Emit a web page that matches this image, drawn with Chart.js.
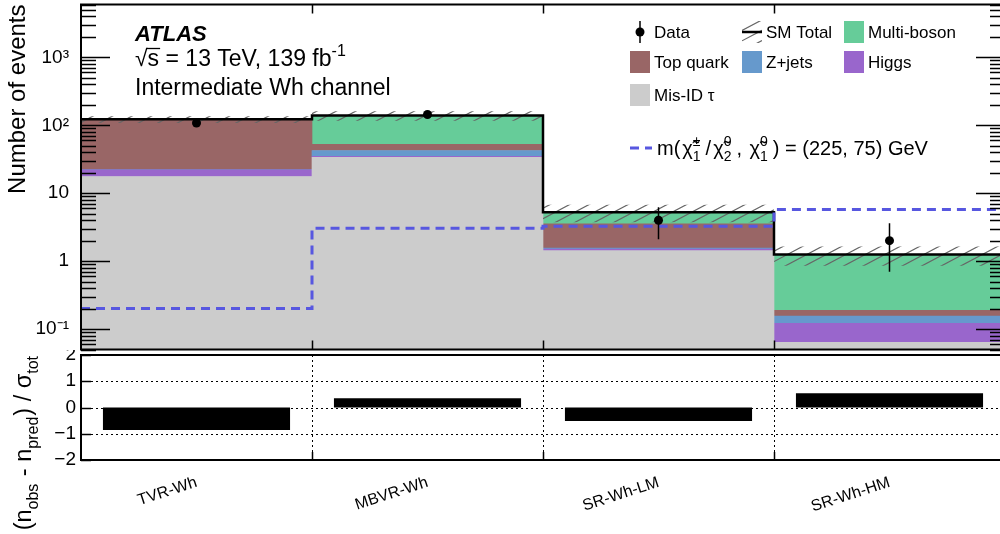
<!DOCTYPE html>
<html>
<head>
<meta charset="utf-8">
<script src="https://cdn.jsdelivr.net/npm/chart.js@4.4.0/dist/chart.umd.min.js"></script>
<style>
  html, body { margin: 0; padding: 0; background: #fff; overflow: hidden; width: 1000px; height: 534px; }
  canvas { position: absolute; left: 0; }
  #top { top: 0; }
  #bottom { top: 350px; }
</style>
</head>
<body>
<canvas id="top" width="1010" height="354"></canvas>
<canvas id="bottom" width="1010" height="184"></canvas>
<script>
const FONT = "'Liberation Sans', Arial, Helvetica, sans-serif";
Chart.defaults.font.family = FONT;
Chart.defaults.color = '#000';

// regions (bins)
const regions = ['TVR-Wh', 'MBVR-Wh', 'SR-Wh-LM', 'SR-Wh-HM'];

// background yields per region
const misIdTau = [17.6, 33.8, 1.43, 0.064];
const higgs = [4.4, 1.2, 0.07, 0.057];
const zJets = [0.2, 7.5, 0.05, 0.034];
const topQuark = [99.5, 10.0, 2.0, 0.033];
const multiBoson = [0.5, 86.5, 1.7, 1.06];
const smUnc = [14, 22, 1.5, 0.39];

// data and signal
const dataObs = [108, 144, 4, 2];
const dataErrUp = [10.4, 12, 2.2, 1.6];
const dataErrDown = [10.4, 12, 1.9, 1.3];
const signal = [0.2, 3.06, 3.27, 5.75];

// lower panel
const significance = [-0.86, 0.35, -0.51, 0.54];

// ticks
const yTicks = [0.1, 1, 10, 100, 1000];
const yTickLabels = ['10\u207B\u00B9', '1', '10', '10\u00B2', '10\u00B3'];
const pullTicks = [-2, -1, 0, 1, 2];
const pullTickLabels = ['\u22122', '\u22121', '0', '1', '2'];

const backgrounds = [
  { label: 'Mis-ID \u03C4', data: misIdTau, color: '#cccccc' },
  { label: 'Higgs', data: higgs, color: '#9966cc' },
  { label: 'Z+jets', data: zJets, color: '#6699cc' },
  { label: 'Top quark', data: topQuark, color: '#996666' },
  { label: 'Multi-boson', data: multiBoson, color: '#66cc99' }
];
const bgColor = Object.fromEntries(backgrounds.map(b => [b.label, b.color]));
const smTotal = regions.map((_, i) => backgrounds.reduce((s, b) => s + b.data[i], 0));
const SIG_COLOR = '#5757e0';

// histogram edges for stepped lines
const steps = arr => arr.map((v, i) => ({ x: i, y: v })).concat([{ x: arr.length, y: arr[arr.length - 1] }]);

// fixed axis box, no label overhang padding
const fixWidth = w => s => { s.width = w; s.paddingTop = 0; s.paddingBottom = 0; };
const fixHeight = h => s => { s.height = h; s.paddingLeft = 0; s.paddingRight = 0; };

function hatch(ctx, x0, y0, x1, y1) {
  ctx.save();
  ctx.beginPath();
  ctx.rect(x0, y0, x1 - x0, y1 - y0);
  ctx.clip();
  ctx.strokeStyle = '#666';
  ctx.lineWidth = 1.2;
  const sp = 19.5, k = 0.53, dc = sp * k;
  const cMin = y0 + k * x0, cMax = y1 + k * x1;
  ctx.beginPath();
  for (let c = Math.floor(cMin / dc) * dc; c <= cMax + dc; c += dc) {
    ctx.moveTo(x0, c - k * x0);
    ctx.lineTo(x1, c - k * x1);
  }
  ctx.stroke();
  ctx.restore();
}

// text with sub/superscripts; {gap} adds space
function drawParts(ctx, x, y, parts, size, scriptGap = 1) {
  const small = Math.round(size * 0.7);
  let cx = x;
  ctx.textAlign = 'left';
  ctx.textBaseline = 'alphabetic';
  for (const p of parts) {
    if (typeof p === 'string') {
      ctx.font = `${size}px ${FONT}`;
      ctx.fillText(p, cx, y);
      cx += ctx.measureText(p).width;
    } else if (p.gap) {
      cx += p.gap;
    } else {
      ctx.font = `${small}px ${FONT}`;
      let w = 0;
      if (p.sup) { ctx.fillText(p.sup, cx, y - size * 0.45); w = Math.max(w, ctx.measureText(p.sup).width); }
      if (p.sub) { ctx.fillText(p.sub, cx, y + size * 0.28); w = Math.max(w, ctx.measureText(p.sub).width); }
      cx += w + scriptGap;
    }
  }
  return cx - x;
}
function partsWidth(ctx, parts, size) {
  ctx.save();
  ctx.globalAlpha = 0;
  const w = drawParts(ctx, -1000, -1000, parts, size);
  ctx.restore();
  return w;
}

const topPanel = {
  id: 'topPanel',
  beforeDatasetDraw(chart, args) {
    const ds = chart.data.datasets[args.index];
    const { ctx, scales: { xs, y, x } } = chart;
    if (ds.label === 'SM Total') {
      smTotal.forEach((t, i) => {
        hatch(ctx, xs.getPixelForValue(i), y.getPixelForValue(t + smUnc[i]),
          xs.getPixelForValue(i + 1), y.getPixelForValue(t - smUnc[i]));
      });
    }
    if (ds.label === 'Data') {
      ctx.save();
      ctx.strokeStyle = '#000';
      ctx.lineWidth = 1.5;
      ctx.beginPath();
      dataObs.forEach((d, i) => {
        const px = x.getPixelForValue(i);
        ctx.moveTo(px, y.getPixelForValue(d + dataErrUp[i]));
        ctx.lineTo(px, y.getPixelForValue(d - dataErrDown[i]));
      });
      ctx.stroke();
      ctx.restore();
    }
  },
  afterDraw(chart) {
    const { ctx, chartArea: a, scales: { y, xs } } = chart;
    ctx.save();
    ctx.strokeStyle = '#000';
    // log ticks, inside the frame
    ctx.lineWidth = 1.5;
    ctx.beginPath();
    for (let e = -2; e <= 3; e++) {
      for (let m = 1; m <= 9; m++) {
        const v = m * Math.pow(10, e);
        if (v < y.min || v > y.max) continue;
        const py = Math.round(y.getPixelForValue(v)) + 0.5;
        const len = m === 1 ? 29 : 15;
        ctx.moveTo(a.left, py); ctx.lineTo(a.left + len, py);
        ctx.moveTo(a.right, py); ctx.lineTo(a.right - len, py);
      }
    }
    for (let i = 1; i < regions.length; i++) {
      const px = Math.round(xs.getPixelForValue(i)) + 0.5;
      ctx.moveTo(px, a.top); ctx.lineTo(px, a.top + 9);
      ctx.moveTo(px, a.bottom); ctx.lineTo(px, a.bottom - 9);
    }
    ctx.stroke();
    ctx.lineWidth = 2;
    ctx.strokeRect(a.left, a.top, a.right - a.left, a.bottom - a.top);

    // ATLAS label
    ctx.fillStyle = '#000';
    ctx.textAlign = 'left';
    ctx.textBaseline = 'alphabetic';
    ctx.font = `italic bold 22px ${FONT}`;
    ctx.fillText('ATLAS', 135, 41);
    ctx.font = `23px ${FONT}`;
    const wRoot = ctx.measureText('\u221A').width;
    const wS = ctx.measureText('s').width;
    drawParts(ctx, 135, 66, ['\u221As = 13 TeV, 139 fb', { sup: '-1' }], 23);
    ctx.lineWidth = 1.3;
    ctx.beginPath();
    ctx.moveTo(135 + wRoot - 1, 48.5); ctx.lineTo(135 + wRoot + wS + 1, 48.5);
    ctx.stroke();
    ctx.font = `23px ${FONT}`;
    ctx.fillText('Intermediate Wh channel', 135, 95);

    // legend
    const cols = [630, 742, 844], rows = [32, 62, 95];
    const entry = (c, r, label) => {
      ctx.font = `17px ${FONT}`;
      ctx.fillStyle = '#000';
      ctx.fillText(label, cols[c] + 24, rows[r] + 6);
    };
    const box = (c, r, label) => {
      ctx.fillStyle = bgColor[label];
      ctx.fillRect(cols[c], rows[r] - 11, 20, 22);
      entry(c, r, label);
    };
    // data
    ctx.lineWidth = 1.5;
    ctx.beginPath();
    ctx.moveTo(cols[0] + 10, rows[0] - 11); ctx.lineTo(cols[0] + 10, rows[0] + 11);
    ctx.stroke();
    ctx.beginPath();
    ctx.arc(cols[0] + 10, rows[0], 4.5, 0, Math.PI * 2);
    ctx.fill();
    entry(0, 0, 'Data');
    // SM total
    hatch(ctx, cols[1], rows[0] - 11, cols[1] + 20, rows[0] + 11);
    ctx.lineWidth = 2.5;
    ctx.beginPath();
    ctx.moveTo(cols[1], rows[0]); ctx.lineTo(cols[1] + 20, rows[0]);
    ctx.stroke();
    entry(1, 0, 'SM Total');
    box(2, 0, 'Multi-boson');
    box(0, 1, 'Top quark');
    box(1, 1, 'Z+jets');
    box(2, 1, 'Higgs');
    box(0, 2, 'Mis-ID \u03C4');
    // signal
    ctx.strokeStyle = SIG_COLOR;
    ctx.lineWidth = 3;
    ctx.setLineDash([9, 6]);
    ctx.beginPath();
    ctx.moveTo(cols[0], 148); ctx.lineTo(cols[0] + 22, 148);
    ctx.stroke();
    ctx.setLineDash([]);
    ctx.fillStyle = '#000';
    const chi = '\u03C7\u0303';
    drawParts(ctx, 657, 155, ['m(', { gap: 2 }, chi, { sup: '\u00B1', sub: '1' }, '/', { gap: 2 }, chi, { sup: '0', sub: '2' },
      ', ', { gap: 2 }, chi, { sup: '0', sub: '1' }, ') = (225, 75) GeV'], 20, 5);
    ctx.restore();
  }
};

new Chart(document.getElementById('top'), {
  type: 'bar',
  data: {
    labels: regions,
    datasets: [
      { type: 'line', label: 'Data', data: dataObs, stack: 'data', showLine: false, pointRadius: 4.5,
        pointBackgroundColor: '#000', pointBorderWidth: 0, borderColor: '#000', order: 0 },
      { type: 'line', label: 'Signal', data: steps(signal), xAxisID: 'xs', stack: 'sig', stepped: 'before',
        borderColor: SIG_COLOR, borderWidth: 3, borderDash: [9, 6], pointRadius: 0, fill: false, order: 1 },
      { type: 'line', label: 'SM Total', data: steps(smTotal), xAxisID: 'xs', stack: 'tot', stepped: 'before',
        borderColor: '#000', borderWidth: 2.5, pointRadius: 0, fill: false, order: 2 },
      ...backgrounds.map(b => ({
        label: b.label, data: b.data, backgroundColor: b.color, stack: 'bkg', grouped: false,
        categoryPercentage: 1, barPercentage: 1, borderWidth: 0, order: 10
      }))
    ]
  },
  options: {
    responsive: false,
    animation: false,
    events: [],
    layout: { padding: { left: 0, right: 5, top: 1, bottom: 3 } },
    plugins: { legend: { display: false }, tooltip: { enabled: false } },
    scales: {
      x: { type: 'category', offset: true, display: false },
      xs: { type: 'linear', min: 0, max: 4, offset: false, display: false },
      y: {
        type: 'logarithmic', min: 0.05, max: 6000, stacked: true,
        afterFit: fixWidth(81),
        afterBuildTicks: s => { s.ticks = yTicks.map(v => ({ value: v })); },
        ticks: { autoSkip: false, callback: (v, i) => yTickLabels[i], font: { size: 19 }, padding: 12, color: '#000' },
        grid: { display: false, drawTicks: false },
        border: { display: false },
        title: { display: true, text: 'Number of events', align: 'end', color: '#000',
          font: { size: 24 }, padding: { top: 4, bottom: 0 } }
      }
    }
  },
  plugins: [topPanel]
});

const bottomPanel = {
  id: 'bottomPanel',
  beforeDatasetsDraw(chart) {
    const { ctx, chartArea: a, scales: { x, y } } = chart;
    ctx.save();
    ctx.strokeStyle = '#000';
    ctx.lineWidth = 1;
    ctx.setLineDash([2, 3]);
    ctx.beginPath();
    pullTicks.slice(1, -1).forEach(v => {
      const py = Math.round(y.getPixelForValue(v)) + 0.5;
      ctx.moveTo(a.left, py); ctx.lineTo(a.right, py);
    });
    for (let i = 1; i < regions.length; i++) {
      const px = Math.round((x.getPixelForValue(i - 1) + x.getPixelForValue(i)) / 2) + 0.5;
      ctx.moveTo(px, a.top); ctx.lineTo(px, a.bottom);
    }
    ctx.stroke();
    ctx.restore();
  },
  afterDraw(chart) {
    const { ctx, chartArea: a, scales: { x, y } } = chart;
    ctx.save();
    ctx.strokeStyle = '#000';
    ctx.lineWidth = 1.5;
    ctx.beginPath();
    pullTicks.forEach(v => {
      const py = Math.round(y.getPixelForValue(v)) + 0.5;
      ctx.moveTo(a.left, py); ctx.lineTo(a.left + 10, py);
    });
    for (let i = 1; i < regions.length; i++) {
      const px = Math.round((x.getPixelForValue(i - 1) + x.getPixelForValue(i)) / 2) + 0.5;
      ctx.moveTo(px, a.bottom); ctx.lineTo(px, a.bottom - 8);
    }
    ctx.stroke();
    ctx.lineWidth = 2;
    ctx.strokeRect(a.left, a.top, a.right - a.left, a.bottom - a.top);
    // y title
    const parts = ['(n', { sub: 'obs' }, ' - n', { sub: 'pred' }, ') / \u03C3', { sub: 'tot' }];
    const w = partsWidth(ctx, parts, 23.5);
    ctx.translate(31, a.top);
    ctx.rotate(-Math.PI / 2);
    ctx.fillStyle = '#000';
    drawParts(ctx, -w, 0, parts, 23.5);
    ctx.restore();
  }
};

new Chart(document.getElementById('bottom'), {
  type: 'bar',
  data: {
    labels: regions,
    datasets: [{ label: 'Significance', data: significance, backgroundColor: '#000',
      barPercentage: 0.81, categoryPercentage: 1, borderWidth: 0 }]
  },
  options: {
    responsive: false,
    animation: false,
    events: [],
    layout: { padding: { left: 0, right: 5, top: 5, bottom: 0 } },
    plugins: { legend: { display: false }, tooltip: { enabled: false } },
    scales: {
      x: {
        type: 'category', offset: true,
        afterFit: fixHeight(74),
        grid: { display: false }, border: { display: false },
        ticks: { autoSkip: false, minRotation: 18, maxRotation: 18, font: { size: 16 }, padding: 5, color: '#000' }
      },
      y: {
        min: -2, max: 2,
        afterFit: fixWidth(81),
        afterBuildTicks: s => { s.ticks = pullTicks.map(v => ({ value: v })); },
        ticks: { autoSkip: false, callback: (v, i) => pullTickLabels[i], font: { size: 19 }, padding: 5, color: '#000' },
        grid: { display: false, drawTicks: false }, border: { display: false }
      }
    }
  },
  plugins: [bottomPanel]
});
</script>
</body>
</html>
